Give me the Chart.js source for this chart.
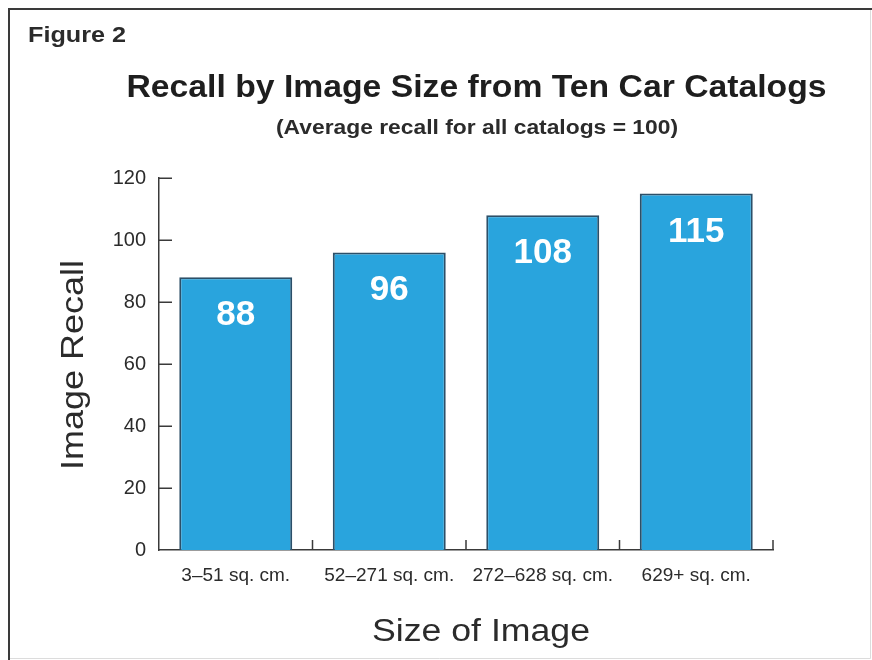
<!DOCTYPE html>
<html>
<head>
<meta charset="utf-8">
<script src="https://cdn.jsdelivr.net/npm/chart.js@4/dist/chart.umd.min.js"></script>
<style>
  html, body { margin: 0; padding: 0; background: #ffffff; }
  #wrap { width: 872px; height: 660px; position: relative; }
  canvas { display: block; }
</style>
</head>
<body>
<div id="wrap"><canvas id="c" width="872" height="660"></canvas></div>
<script>
// Recall index for each image-size band
const categories = ['3–51 sq. cm.', '52–271 sq. cm.', '272–628 sq. cm.', '629+ sq. cm.'];
const recall = [88, 96, 108, 115];
const yTicks = [0, 20, 40, 60, 80, 100, 120];

const figureLabel = 'Figure 2';
const titleText = 'Recall by Image Size from Ten Car Catalogs';
const subtitleText = '(Average recall for all catalogs = 100)';
const yTitle = 'Image Recall';
const xTitle = 'Size of Image';

const FONT = '"Liberation Sans", Arial, Helvetica, sans-serif';
const INK = '#2b2b2b';

// draw text squeezed/stretched horizontally to a given width
function fitText(ctx, text, x, y, size, weight, width, color) {
  ctx.save();
  ctx.font = weight + ' ' + size + 'px ' + FONT;
  const w = ctx.measureText(text).width;
  ctx.translate(x, y);
  ctx.scale(width / w, 1);
  ctx.fillStyle = color;
  ctx.textAlign = 'center';
  ctx.textBaseline = 'alphabetic';
  ctx.fillText(text, 0, 0);
  ctx.restore();
}

const decor = {
  id: 'decor',
  beforeDraw(chart) {
    const ctx = chart.ctx;
    ctx.save();
    ctx.fillStyle = '#ffffff';
    ctx.fillRect(0, 0, chart.width, chart.height);
    // frame
    ctx.strokeStyle = '#dcdcdc';
    ctx.lineWidth = 1;
    ctx.beginPath();
    ctx.moveTo(870.5, 8); ctx.lineTo(870.5, 658.5); ctx.lineTo(8, 658.5);
    ctx.stroke();
    ctx.strokeStyle = '#3a3a3a';
    ctx.lineWidth = 2;
    ctx.beginPath();
    ctx.moveTo(9, 660); ctx.lineTo(9, 9); ctx.lineTo(872, 9);
    ctx.stroke();
    ctx.restore();
  },
  afterDraw(chart) {
    const ctx = chart.ctx;
    const x = chart.scales.x, y = chart.scales.y;

    // headings and axis titles
    fitText(ctx, figureLabel, 28 + 49, 42, 22, 'bold', 98, INK);
    fitText(ctx, titleText, 476.5, 97, 32, 'bold', 700, '#1e1e1e');
    fitText(ctx, subtitleText, 477, 134, 20, 'bold', 402, INK);
    fitText(ctx, xTitle, 481, 641, 31, 'normal', 218, INK);

    ctx.save();
    ctx.translate(83, 365);
    ctx.rotate(-Math.PI / 2);
    fitText(ctx, yTitle, 0, 0, 31, 'normal', 210, INK);
    ctx.restore();

    // inward tick marks on the value axis
    ctx.save();
    ctx.strokeStyle = '#3a3a3a';
    ctx.lineWidth = 1.5;
    ctx.beginPath();
    yTicks.forEach(v => {
      if (v === 0) return;
      const py = Math.round(y.getPixelForValue(v)) + 0.25;
      ctx.moveTo(x.left, py);
      ctx.lineTo(x.left + 13, py);
    });
    // category dividers rising from the base line
    const n = categories.length;
    for (let i = 0; i < n; i++) {
      const px = i < n - 1
        ? (x.getPixelForValue(i) + x.getPixelForValue(i + 1)) / 2
        : x.right;
      ctx.moveTo(px, y.bottom);
      ctx.lineTo(px, y.bottom - 10);
    }
    ctx.stroke();
    ctx.restore();

    // value labels inside the bars
    const meta = chart.getDatasetMeta(0);
    meta.data.forEach((bar, i) => {
      ctx.save();
      ctx.font = 'bold 35px ' + FONT;
      ctx.fillStyle = '#ffffff';
      ctx.textAlign = 'center';
      ctx.textBaseline = 'alphabetic';
      ctx.fillText(String(recall[i]), bar.x, bar.y + 48);
      ctx.restore();
    });
  }
};

new Chart(document.getElementById('c'), {
  type: 'bar',
  data: {
    labels: categories,
    datasets: [{
      data: recall,
      backgroundColor: '#29a4dd',
      borderColor: '#2c4f68',
      borderWidth: 2,
      borderSkipped: 'bottom',
      barPercentage: 0.736,
      categoryPercentage: 1
    }]
  },
  options: {
    responsive: false,
    animation: false,
    devicePixelRatio: 1,
    layout: { padding: { left: 0, right: 99, top: 178, bottom: 70 } },
    plugins: {
      legend: { display: false },
      tooltip: { enabled: false },
      title: { display: false }
    },
    scales: {
      x: {
        offset: true,
        grid: { display: false, drawTicks: false },
        border: { display: true, color: '#3a3a3a', width: 1.5 },
        ticks: {
          color: INK,
          padding: 14,
          maxRotation: 0,
          font: { family: FONT, size: 19 }
        },
        afterFit(scale) { scale.height = 40; }
      },
      y: {
        min: 0,
        max: 120,
        grid: { display: false, drawTicks: false },
        border: { display: true, color: '#3a3a3a', width: 1.5 },
        afterBuildTicks(scale) { scale.ticks = yTicks.map(v => ({ value: v })); },
        ticks: {
          color: INK,
          padding: 13,
          font: { family: FONT, size: 20 }
        },
        afterFit(scale) { scale.width = 159; }
      }
    }
  },
  plugins: [decor]
});
</script>
</body>
</html>
